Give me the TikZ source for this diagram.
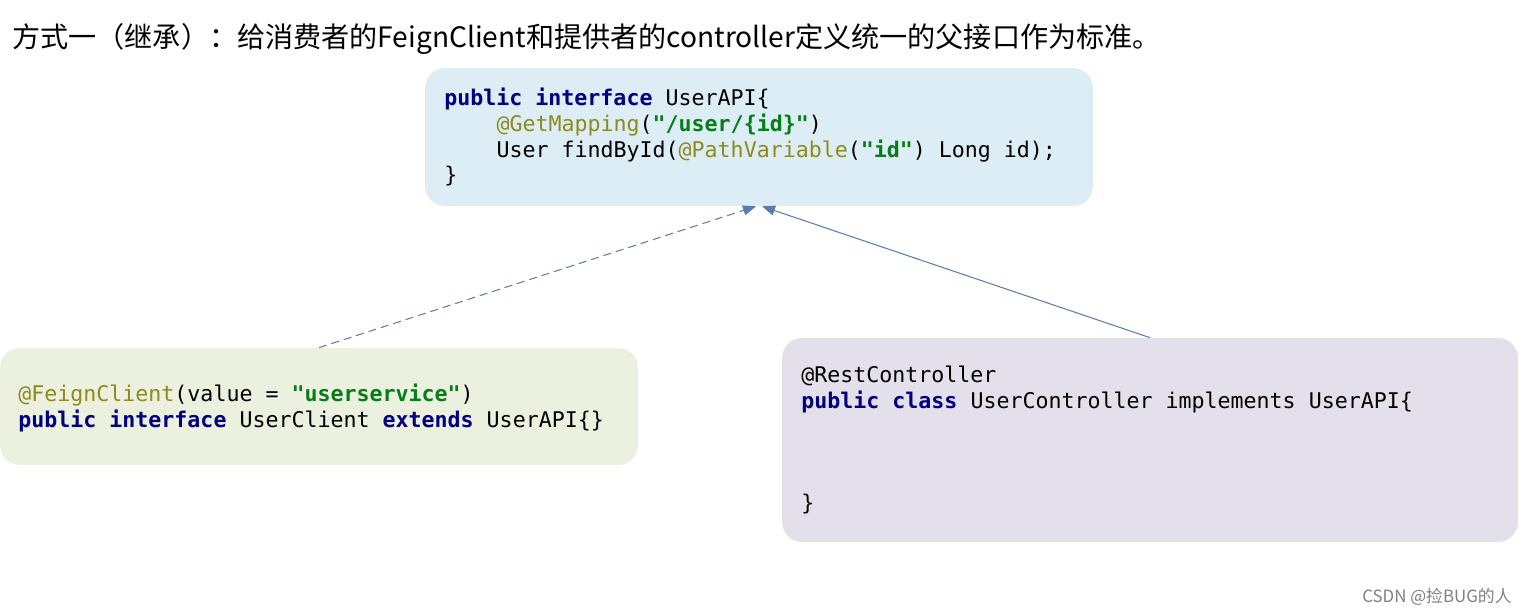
\documentclass[tikz,border=0pt]{standalone}
\usepackage{fontspec}
\setmainfont{Noto Sans CJK SC}
\setmonofont{DejaVu Sans Mono}
\newfontfamily\cjkfont{Noto Sans CJK SC}
\usetikzlibrary{arrows.meta}
\definecolor{kwblue}{HTML}{000080}
\definecolor{annolive}{HTML}{8E8A1E}
\definecolor{strgreen}{HTML}{067D17}
\definecolor{apifill}{HTML}{DCEDF5}
\definecolor{clientfill}{HTML}{EBF0DF}
\definecolor{ctrlfill}{HTML}{E3E0EC}
\definecolor{linkblue}{HTML}{5A7DB0}
\newcommand\codefont{\fontsize{12.3}{14.6}\selectfont\ttfamily}
\newcommand\javakw[1]{{\color{kwblue}\bfseries #1}}
\newcommand\javaann[1]{{\color{annolive}#1}}
\newcommand\javastr[1]{{\color{strgreen}\bfseries #1}}
\begin{document}
\begin{tikzpicture}[x=0.02cm,y=-0.02cm,line join=round,>={Triangle[length=0.26cm,width=0.2cm]}]
		\tikzset{box/.style={rounded corners=0.4cm, inner sep=0pt},
		code/.style={anchor=base west, inner sep=0pt, font=\codefont},
		link/.style={draw=linkblue, line width=0.6pt, ->, >={Triangle[length=0.26cm,width=0.2cm,fill=linkblue]}}}
		\useasboundingbox (0,0) rectangle (1530,614);
		% title
		\node (title) [anchor=base west, inner sep=0pt, font=\fontsize{16}{18}\selectfont\cjkfont] at (12,48)
			{方式一（继承）：给消费者的FeignClient和提供者的controller定义统一的父接口作为标准。};
		% boxes
		\node (api) [box, fill=apifill, minimum width=13.36cm, minimum height=2.76cm] at (759,137) {};
		\node (client) [box, fill=clientfill, minimum width=12.76cm, minimum height=2.34cm] at (319,406.5) {};
		\node (ctrl) [box, fill=ctrlfill, minimum width=14.72cm, minimum height=4.08cm] at (1150,440) {};
		% parent interface
		\node (api1) [code] at (444,106) {\javakw{public} \javakw{interface} UserAPI\{};
		\node (api2) [code] at (496.2,132) {\javaann{@GetMapping}(\javastr{"/user/\{id\}"})};
		\node (api3) [code] at (496.2,158) {User findById(\javaann{@PathVariable}(\javastr{"id"}) Long id);};
		\node (api4) [code] at (444,183) {\}};
		% consumer
		\node (client1) [code] at (18,401) {\javaann{@FeignClient}(value = \javastr{"userservice"})};
		\node (client2) [code] at (18,427) {\javakw{public} \javakw{interface} UserClient \javakw{extends} UserAPI\{\}};
		% provider
		\node (ctrl1) [code] at (801,383) {@RestController};
		\node (ctrl2) [code] at (801,408) {\javakw{public} \javakw{class} UserController implements UserAPI\{};
		\node (ctrl3) [code] at (801,510) {\}};
		% links
		\draw[link, dash pattern=on 0.16cm off 0.1cm] (client.north) -- ([xshift=-0.06cm]api.south);
		\draw[link] (ctrl.north) -- ([xshift=0.06cm]api.south);
		% watermark
		\node (mark) [anchor=base east, inner sep=0pt, text=gray, font=\fontsize{9.6}{11}\selectfont\cjkfont] at (1512,602) {CSDN @捡BUG的人};
\end{tikzpicture}
\end{document}
